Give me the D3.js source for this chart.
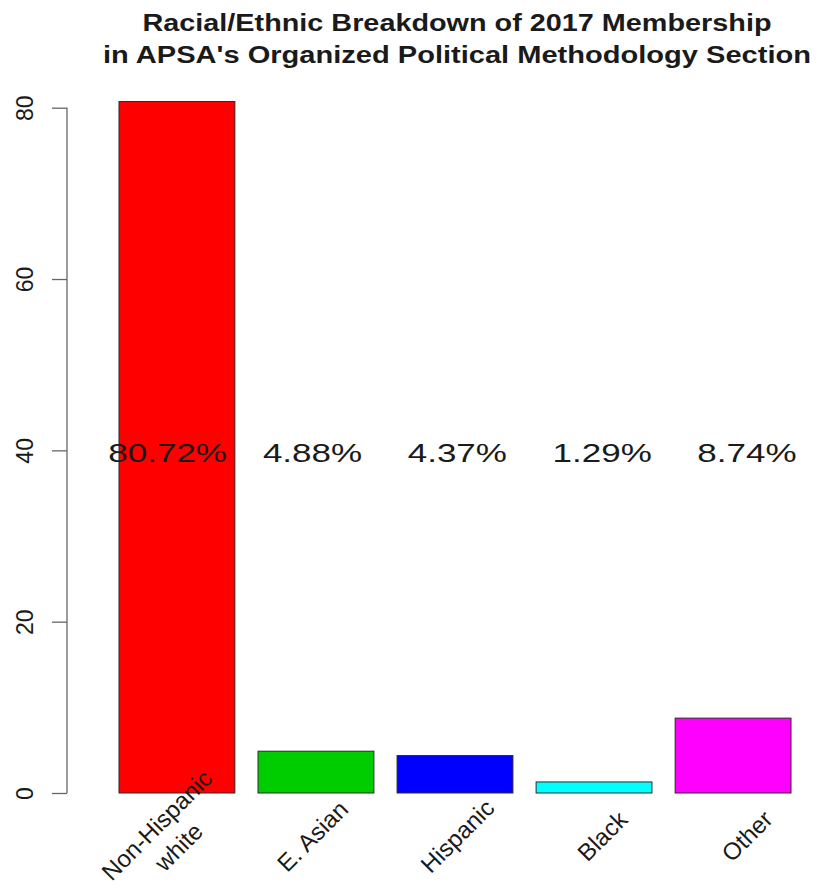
<!DOCTYPE html>
<html>
<head>
<meta charset="utf-8">
<script src="https://cdn.jsdelivr.net/npm/d3@7"></script>
<style>
  html, body { margin: 0; padding: 0; background: #fff; }
  svg { display: block; }
  text { font-family: "Liberation Sans", Arial, Helvetica, sans-serif; fill: #1a1a1a; }
</style>
</head>
<body>
<svg id="chart" width="819" height="890"></svg>
<script>
// ---- data ----
const categories = [["Non-Hispanic", "white"], ["E. Asian"], ["Hispanic"], ["Black"], ["Other"]];
const values = [80.72, 4.88, 4.37, 1.29, 8.74];
const percentLabels = ["80.72%", "4.88%", "4.37%", "1.29%", "8.74%"];
const barColors = ["#FF0000", "#00CD00", "#0000FF", "#00FFFF", "#FF00FF"];
const yTicks = [0, 20, 40, 60, 80];
const titleLines = ["Racial/Ethnic Breakdown of 2017 Membership",
                    "in APSA's Organized Political Methodology Section"];

// ---- layout ----
const svg = d3.select("#chart");
// R barplot user coordinates: bars of width 1 with space 0.2
const x = d3.scaleLinear().domain([0.2, 6.0]).range([119, 791]);
const y = d3.scaleLinear().domain([0, 80]).range([793, 107.7]);
const barLeft = i => 0.2 + i * 1.2;
const labelX = i => 0.62 + i * 1.25;

// bars
svg.append("g").selectAll("rect")
  .data(values)
  .join("rect")
  .attr("x", (d, i) => x(barLeft(i)))
  .attr("width", (d, i) => x(barLeft(i) + 1) - x(barLeft(i)))
  .attr("y", d => y(d))
  .attr("height", d => y(0) - y(d))
  .attr("fill", (d, i) => barColors[i])
  .attr("stroke", "#2a2a2a")
  .attr("stroke-width", 1);

// y axis (R style)
const axisG = svg.append("g").attr("transform", "translate(67,0)");
const yAxis = d3.axisLeft(y).tickValues(yTicks).tickSize(15).tickPadding(0).tickFormat(d3.format("d"));
axisG.call(yAxis);
axisG.select(".domain").attr("d", `M0,${y(0)}V${y(80)}`).attr("stroke", "#666").attr("stroke-width", 1.3);
axisG.selectAll(".tick line").attr("stroke", "#666").attr("stroke-width", 1.3);
axisG.selectAll(".tick text")
  .attr("x", null).attr("dy", null)
  .attr("transform", "translate(-34,0) rotate(-90)")
  .attr("text-anchor", "middle")
  .attr("dominant-baseline", "auto")
  .attr("y", 0)
  .style("font-size", "23px")
  .style("font-family", '"Liberation Sans", Arial, sans-serif')
  .attr("fill", "#1a1a1a");

// percent labels at y = 40
const pct = svg.append("g").selectAll("text")
  .data(percentLabels)
  .join("text")
  .attr("x", (d, i) => x(labelX(i)))
  .attr("y", y(40) + 11.5)
  .attr("text-anchor", "middle")
  .style("font-size", "26.5px")
  .text(d => d);
pct.each(function() {
  const w = this.getComputedTextLength();
  d3.select(this).attr("textLength", w * 1.32).attr("lengthAdjust", "spacingAndGlyphs");
});

// category labels, rotated 45 degrees
const catG = svg.append("g").selectAll("g")
  .data(categories)
  .join("g")
  .attr("transform", (d, i) => `translate(${x(labelX(i))},836) rotate(-45)`);
catG.each(function(lines) {
  const g = d3.select(this);
  const n = lines.length;
  lines.forEach((ln, k) => {
    g.append("text")
      .attr("x", 0)
      .attr("y", (k - (n - 1) / 2) * 31 + 8.5)
      .attr("text-anchor", "middle")
      .style("font-size", "24px")
      .text(ln);
  });
});

// title
const titleW = [629, 708];
svg.append("g").selectAll("text")
  .data(titleLines)
  .join("text")
  .attr("x", 457)
  .attr("y", (d, i) => 31 + i * 32)
  .attr("text-anchor", "middle")
  .style("font-size", "23.5px")
  .style("font-weight", "bold")
  .attr("textLength", (d, i) => titleW[i])
  .attr("lengthAdjust", "spacingAndGlyphs")
  .text(d => d);
</script>
</body>
</html>
